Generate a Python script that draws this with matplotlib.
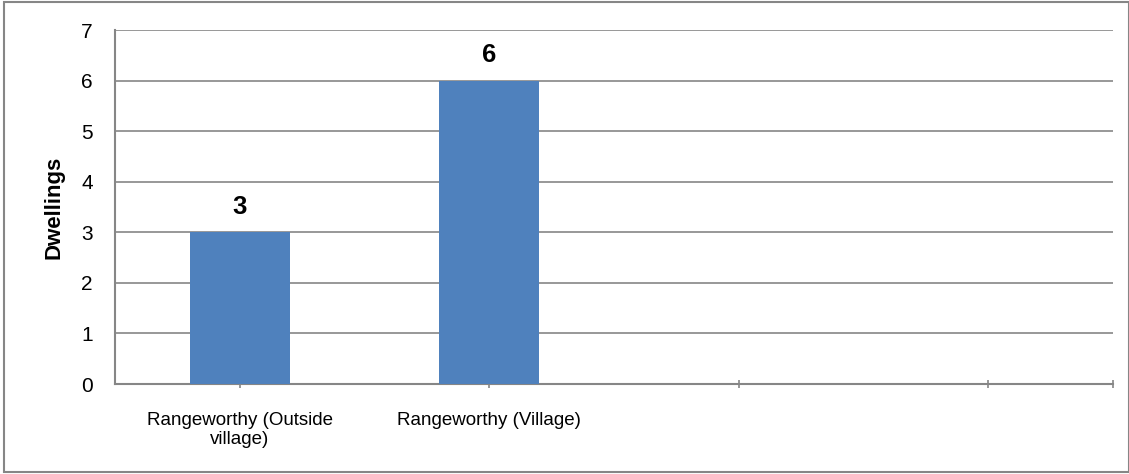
import numpy as np
import matplotlib.pyplot as plt
from matplotlib.patches import Rectangle

categories = ["Rangeworthy (Outside\nvillage)", "Rangeworthy (Village)", "", ""]
dwellings = [3, 6, np.nan, np.nan]
value_labels = ["3", "6", "", ""]

plt.rcParams['font.family'] = ['Liberation Sans', 'DejaVu Sans']

fig = plt.figure(figsize=(11.29, 4.74), dpi=100)
W, H = 1129, 474
ax = fig.add_axes([115 / W, 1 - 384 / H, (1113 - 115) / W, (384 - 30) / H])

grey = '#868686'
x = np.arange(len(categories))
bars = ax.bar(x, dwellings, width=0.4, color='#4F81BD', zorder=3)
for xi, v, lab in zip(x, dwellings, value_labels):
    if lab:
        ax.text(xi, v + 0.26, lab, ha='center', va='bottom', fontsize=18.5, fontweight='bold')

ax.set_xlim(-0.5, len(categories) - 0.5)
ax.set_ylim(0, 7)
ax.set_yticks(range(0, 8))
ax.tick_params(axis='y', length=0, labelsize=15, pad=16)
ax.set_xticks(list(x) + [len(categories) - 0.5])
ax.set_xticklabels(categories + [""], fontsize=13.5, linespacing=1.1)
ax.tick_params(axis='x', length=6, direction='inout', color=grey, width=1.2, pad=17.5)
ax.yaxis.grid(True, color=grey, linewidth=1.2, zorder=0)
for s in ['top', 'right']:
    ax.spines[s].set_visible(False)
for s in ['left', 'bottom']:
    ax.spines[s].set_color(grey)
    ax.spines[s].set_linewidth(1.5)
ax.set_ylabel("Dwellings", fontsize=16, fontweight='bold', labelpad=12)

fig.patches.append(Rectangle((4 / W, 2 / H), 1 - 4 / W, 1 - 4 / H, transform=fig.transFigure,
                             fill=False, edgecolor=grey, linewidth=1.5))

fig.savefig("out.png", dpi=100)
